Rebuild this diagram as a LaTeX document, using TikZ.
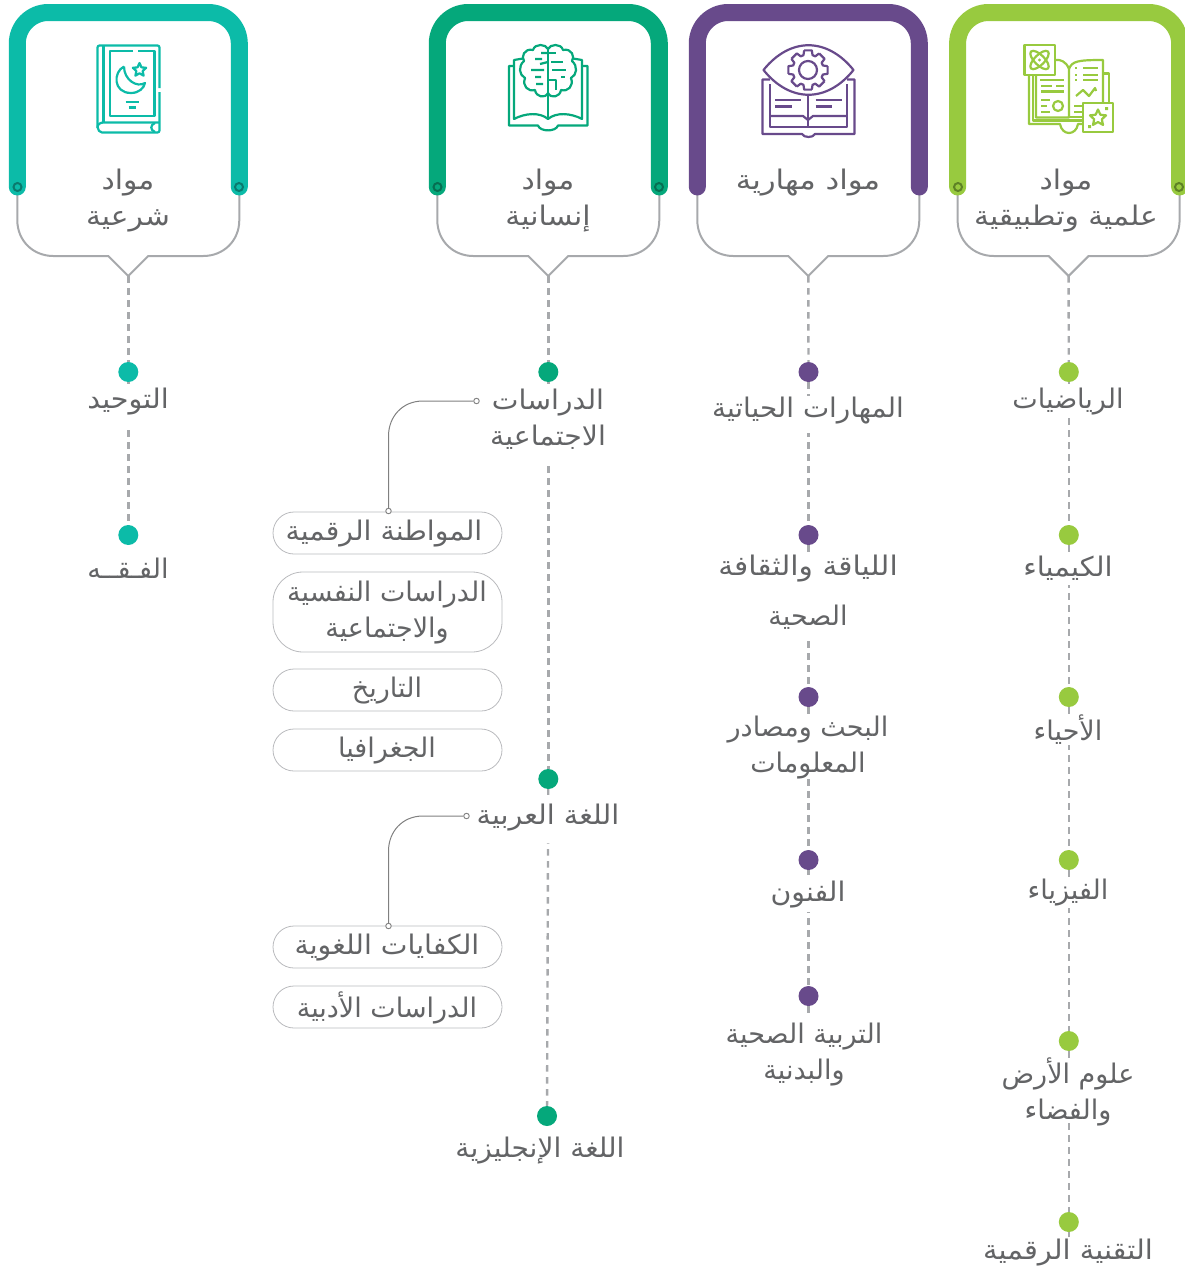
\documentclass[tikz,border=0pt]{standalone}
\usepackage{fontspec}
\usetikzlibrary{shapes.geometric}
\TeXXeTstate=1
\newfontfamily\arabicfont[Script=Arabic]{DejaVu Sans}
\newcommand{\ar}[1]{\beginR #1\endR}
\definecolor{cteal}{HTML}{0CBBA8}
\definecolor{dteal}{HTML}{0A7A6E}
\definecolor{cgreen}{HTML}{05A87B}
\definecolor{dgreen}{HTML}{066F52}
\definecolor{cpurple}{HTML}{684A8B}
\definecolor{clime}{HTML}{98CA3F}
\definecolor{dlime}{HTML}{5E8225}
\definecolor{cgrey}{HTML}{A7A9AC}
\definecolor{ctext}{HTML}{636466}
\pgfdeclarelayer{spine}
\pgfdeclarelayer{mask}
\pgfsetlayers{spine,mask,main}
\tikzset{
  band/.style={line width=17pt,line cap=round,rounded corners=31pt},
  outline/.style={draw=cgrey,line width=2pt},
  dashline/.style={draw=cgrey,line width=2.4pt,dash pattern=on 6.5pt off 5.5pt},
  dot/.style={circle,fill=#1,inner sep=0pt,minimum size=20pt},
  ring/.style={circle,draw=#1,line width=2pt,inner sep=0pt,minimum size=8pt},
  label/.style={font=\arabicfont\fontsize{27}{36}\selectfont,text=ctext,align=center,inner sep=0pt,yshift=-2.5pt},
  pill/.style={draw=cgrey!80,line width=.8pt},
  thin/.style={draw=gray,line width=1pt},
  endcirc/.style={circle,draw=gray,fill=white,line width=.9pt,inner sep=0pt,minimum size=5.5pt},
  ico/.style={line width=2.2pt,line join=round,fill=none},
}
\newcommand{\card}[3]{% x centre, colour, coordinate name
  \draw[outline] (#1-111,187) -- (#1-111,220) .. controls (#1-111,241) and (#1-95,256) .. (#1-75,256)
     -- (#1-20,256) -- (#1,276) -- (#1+20,256) -- (#1+75,256)
     .. controls (#1+95,256) and (#1+111,241) .. (#1+111,220) -- (#1+111,187);
  \draw[band,draw=#2] (#1-111,187) -- (#1-111,12.5) -- (#1+111,12.5) -- (#1+111,187);
  \coordinate (#3) at (#1,276);
}
\newcommand{\gapat}[3]{\fill[white] (#1-12,#2) rectangle (#1+12,#3);}
\begin{document}
\begin{tikzpicture}[x=1pt,y=-1pt]
\useasboundingbox (0,0) rectangle (1184,1269);

% ---- cards
\card{128.3}{cteal}{tipA}
\card{548.3}{cgreen}{tipB}
\card{808.3}{cpurple}{tipC}
\card{1068.6}{clime}{tipD}
\node[ring=dteal] (ra1) at (17.5,187) {};
\node[ring=dteal] (ra2) at (239,187) {};
\node[ring=dgreen] (rb1) at (437.5,187) {};
\node[ring=dgreen] (rb2) at (659,187) {};
\node[ring=dlime] (rd1) at (958,187) {};
\node[ring=dlime] (rd2) at (1179,187) {};

% ---- card titles
\node[label,xscale=1.1] (ta) at (128,198.5) {\ar{مواد}\\\ar{شرعية}};
\node[label,xscale=1.1] (tb) at (548,198.5) {\ar{مواد}\\\ar{إنسانية}};
\node[label,xscale=1.14] (tc) at (808,180) {\ar{مواد مهارية}};
\node[label,xscale=1.1] (td) at (1066,198.5) {\ar{مواد}\\\ar{علمية وتطبيقية}};

% ---- dots
\foreach \n/\x/\y/\c in {a1/128.3/372/cteal,a2/128.3/535/cteal,
  b1/548.3/372/cgreen,b2/548.3/779/cgreen,b3/547/1116/cgreen,
  c1/808.5/372/cpurple,c2/808.5/535/cpurple,c3/808.5/697/cpurple,c4/808.5/860/cpurple,c5/808.5/996/cpurple,
  d1/1068.8/372/clime,d2/1068.8/535/clime,d3/1068.8/697/clime,d4/1068.8/860/clime,d5/1068.8/1041/clime,d6/1068.8/1222/clime}
  {\node[dot=\c] (dot\n) at (\x,\y) {};}
\coordinate (tailc) at (808.5,1020);
\coordinate (taild) at (1068.8,1240);

% ---- spines, interrupted behind the labels
\begin{pgfonlayer}{spine}
\draw[dashline] (tipA) -- (dota1);
\draw[dashline] (dota1) -- (dota2);
\draw[dashline] (tipB) -- (dotb1);
\draw[dashline] (dotb1) -- (dotb2);
\draw[dashline] (dotb2) -- (dotb3);
\draw[dashline] (tipC) -- (dotc1);
\draw[dashline] (dotc1) -- (dotc2);
\draw[dashline] (dotc2) -- (dotc3);
\draw[dashline] (dotc3) -- (dotc4);
\draw[dashline] (dotc4) -- (dotc5);
\draw[dashline] (dotc5) -- (tailc);
\draw[dashline] (tipD) -- (dotd1);
\draw[dashline] (dotd1) -- (dotd2);
\draw[dashline] (dotd2) -- (dotd3);
\draw[dashline] (dotd3) -- (dotd4);
\draw[dashline] (dotd4) -- (dotd5);
\draw[dashline] (dotd5) -- (dotd6);
\draw[dashline] (dotd6) -- (taild);
\end{pgfonlayer}
\begin{pgfonlayer}{mask}
\gapat{128.3}{384}{428}
\gapat{548.3}{384}{463}
\gapat{548.3}{795}{843}
\gapat{808.5}{396}{433}
\gapat{808.5}{553}{637}
\gapat{808.5}{715}{775}
\gapat{808.5}{875}{912}
\gapat{808.5}{1018}{1030}
\gapat{1068.8}{384}{413}
\gapat{1068.8}{555}{585}
\gapat{1068.8}{715}{745}
\gapat{1068.8}{877}{908}
\gapat{1068.8}{1058}{1117}
\gapat{1068.8}{1237}{1250}
\end{pgfonlayer}

% ---- column labels
\node[label,xscale=1.06] (la1) at (128,399) {\ar{التوحيد}};
\node[label] (la2) at (128,566) {\ar{الفـقــه}};
\node[label,xscale=1.05] (lb1) at (548,417) {\ar{الدراسات}\\\ar{الاجتماعية}};
\node[label,xscale=1.06] (lb2) at (548,815) {\ar{اللغة العربية}};
\node[label,xscale=1.04] (lb3) at (540,1148) {\ar{اللغة الإنجليزية}};
\node[label,xscale=1.03] (lc1) at (808,408) {\ar{المهارات الحياتية}};
\node[label,xscale=1.1] (lc2a) at (808,566) {\ar{اللياقة والثقافة}};
\node[label] (lc2b) at (808,615) {\ar{الصحية}};
\node[label] (lc3) at (808,745) {\ar{البحث ومصادر}\\\ar{المعلومات}};
\node[label,xscale=1.05] (lc4) at (808,892) {\ar{الفنون}};
\node[label] (lc5) at (804,1052) {\ar{التربية الصحية}\\\ar{والبدنية}};
\node[label] (ld1) at (1068,399) {\ar{الرياضيات}};
\node[label,xscale=1.07] (ld2) at (1068,566) {\ar{الكيمياء}};
\node[label] (ld3) at (1068,727) {\ar{الأحياء}};
\node[label] (ld4) at (1068,890) {\ar{الفيزياء}};
\node[label] (ld5) at (1068,1089) {\ar{علوم الأرض}\\\ar{والفضاء}};
\node[label,xscale=1.07] (ld6) at (1068,1250) {\ar{التقنية الرقمية}};

% ---- pills
\foreach \t/\b/\r in {512/554/21,572/652/30,669/711/21,729/771/21,926/968/21,986/1028/21}
  {\draw[pill,rounded corners=\r pt] (273,\t) rectangle (502,\b);}
\node[label,xscale=1.05] (pt1) at (384,531) {\ar{المواطنة الرقمية}};
\node[label] (pt2) at (387,610) {\ar{الدراسات النفسية}\\\ar{والاجتماعية}};
\node[label] (pt3) at (387,688) {\ar{التاريخ}};
\node[label] (pt4) at (387,748) {\ar{الجغرافيا}};
\node[label,xscale=1.05] (pt5) at (387,945) {\ar{الكفايات اللغوية}};
\node[label] (pt6) at (387,1005) {\ar{الدراسات الأدبية}};

% ---- thin connectors
\node[endcirc] (e1) at (476.5,401) {};
\node[endcirc] (e2) at (388.5,511) {};
\node[endcirc] (e3) at (466.5,816) {};
\node[endcirc] (e4) at (388.5,926) {};
\draw[thin] (e1) -- (423,401) .. controls (402,401) and (388.5,417) .. (388.5,436) -- (e2);
\draw[thin] (e3) -- (423,816) .. controls (402,816) and (388.5,832) .. (388.5,851) -- (e4);

% ---- icon: book with crescent
\begin{scope}[ico,draw=cteal]
\draw[rounded corners=2pt] (159.5,88) -- (159.5,45.5) -- (97.5,45.5) -- (97.5,125) .. controls (97.5,130) and (100,132.5) .. (104,132.5) -- (159.5,132.5) -- (159.5,92);
\draw (103.5,46) -- (103.5,122);
\draw (97.5,128) .. controls (97.5,124) and (100,122.5) .. (104,122.5) -- (159.5,122.5);
\draw (155,123) .. controls (150,125) and (150,130) .. (155,132);
\draw (133,51) -- (110,51) -- (110,116) -- (154.5,116) -- (154.5,51) -- (138,51);
\draw (124,66.5) .. controls (113,72) and (113,93) .. (131,93) .. controls (139,93) and (144,88) .. (145,83) .. controls (137,88) and (124,80) .. (124,66.5);
\node[star,star points=5,star point ratio=2.1,draw=cteal,line width=2.2pt,inner sep=0pt,minimum size=14pt] (sA) at (139.5,70) {};
\draw (125.5,102) -- (138.5,102) (128.5,107.5) -- (135.5,107.5);
\end{scope}

% ---- icon: brain on open book
\begin{scope}[ico,draw=cgreen]
\draw (514,66) -- (509,66) -- (509,125.5) -- (538,125.5) .. controls (540,132) and (556,132) .. (558,125.5) -- (587.5,125.5) -- (587.5,66) -- (582,66);
\draw (514,66) -- (514,60) -- (523,58.5);
\draw (582,66) -- (582,60) -- (573,58.5);
\draw (514,66) -- (514,119) .. controls (525,113) and (540,112) .. (548,119) .. controls (556,112) and (571,113) .. (582,119) -- (582,66);
\draw (548,47) -- (548,119);
\foreach \s in {1,-1}{
\begin{scope}[shift={(548,0)},xscale=\s]
\draw (0,49) .. controls (-2,44) and (-13,43) .. (-15,50) .. controls (-24,48) and (-27,57) .. (-24,61) .. controls (-30,66) and (-29,75) .. (-23,78) .. controls (-26,86) and (-20,92) .. (-13,90) .. controls (-12,97) and (-3,99) .. (0,93);
\end{scope}}
\draw (548,53) -- (541,53) (535,59) -- (542,59) (531,70) -- (544,70) (535,77) -- (541,77) (548,62) -- (540,64) (536,84) -- (543,84);
\draw (548,53) -- (556,53) (551,62) -- (563,62) (552,70) -- (566,70) (548,80) -- (556,80) -- (556,90) (561,77) -- (565,77);
\end{scope}

% ---- icon: eye and gear on book
\begin{scope}[ico,draw=cpurple]
\draw (770,79.5) -- (762.5,79.5) -- (762.5,134) -- (802,134) .. controls (804,138) and (813,138) .. (815,134) -- (854.5,134) -- (854.5,79.5) -- (847,79.5);
\draw (770,84) -- (770,127) -- (847,127) -- (847,84);
\draw (770,116) -- (803,116) -- (808,120) -- (813,116) -- (847,116);
\draw (808,95) -- (808,127);
\draw[fill=white] (763.5,70) .. controls (790,37) and (827,37) .. (853.5,70) .. controls (827,103) and (790,103) .. (763.5,70) -- cycle;
\draw (775,100) -- (801,100) (775,106.5) -- (792,106.5) (815.5,100) -- (842,100) (815.5,106.5) -- (832,106.5);
\draw (808,70) circle (9pt);
\begin{scope}[shift={(808,70)}]
\foreach \a in {0,45,...,315}{
 \draw (\a-11:20) -- (\a+11:20) -- (\a+17:15.5) -- (\a+28:15.5) -- (\a+34:20);
}
\end{scope}
\end{scope}

% ---- icon: science book
\begin{scope}[ico,draw=clime]
\draw (1029,75) -- (1029,124) -- (1060,124) .. controls (1062,136) and (1076,136) .. (1078,124) -- (1083,124);
\draw (1036,75) -- (1036,117.5) -- (1069,117.5) -- (1069,69) .. controls (1066,61) and (1060,59.5) .. (1056,60);
\draw (1033,75) -- (1033,120.5) -- (1083,120.5);
\draw (1069,69) .. controls (1072,61) and (1078,60) .. (1103,60) -- (1103,103);
\draw (1103,73.5) -- (1109,73.5) -- (1109,103);
\draw (1069,117) -- (1083,117);
\draw (1040,80) -- (1064,80) (1041,86) -- (1052,86) (1056,86) -- (1064,86) (1041,91.5) -- (1064,91.5) (1041,100) -- (1050,100) (1041,106) -- (1047,106) (1041,112) -- (1050,112);
\draw (1058,106) circle (5pt);
\draw (1083,68) -- (1098,68) (1083,75) -- (1098,75) (1083,80) -- (1098,80);
\draw[dash pattern=on 2pt off 20pt] (1075,68) -- (1078,68) (1075,75) -- (1078,75) (1075,80) -- (1078,80);
\draw (1076,96) -- (1083,90) -- (1089,96) -- (1095,88) -- (1096,91);
\draw (1074,106) -- (1083,106) (1074,112) -- (1083,112);
\draw[fill=white] (1024.5,45) rectangle (1055,75);
\begin{scope}[shift={(1039.5,60)}]
\draw[rotate=45] (0,0) ellipse (12pt and 5pt);
\draw[rotate=-45] (0,0) ellipse (12pt and 5pt);
\fill[clime] (0,0) circle (1.6pt);
\end{scope}
\draw[fill=white] (1083,103) rectangle (1113,132);
\node[star,star points=5,star point ratio=2.1,draw=clime,line width=2.2pt,inner sep=0pt,minimum size=17pt] (sD) at (1098,118) {};
\fill[clime] (1105,107) rectangle (1108,110) (1088,125) rectangle (1091,128);
\end{scope}
\end{tikzpicture}
\end{document}
